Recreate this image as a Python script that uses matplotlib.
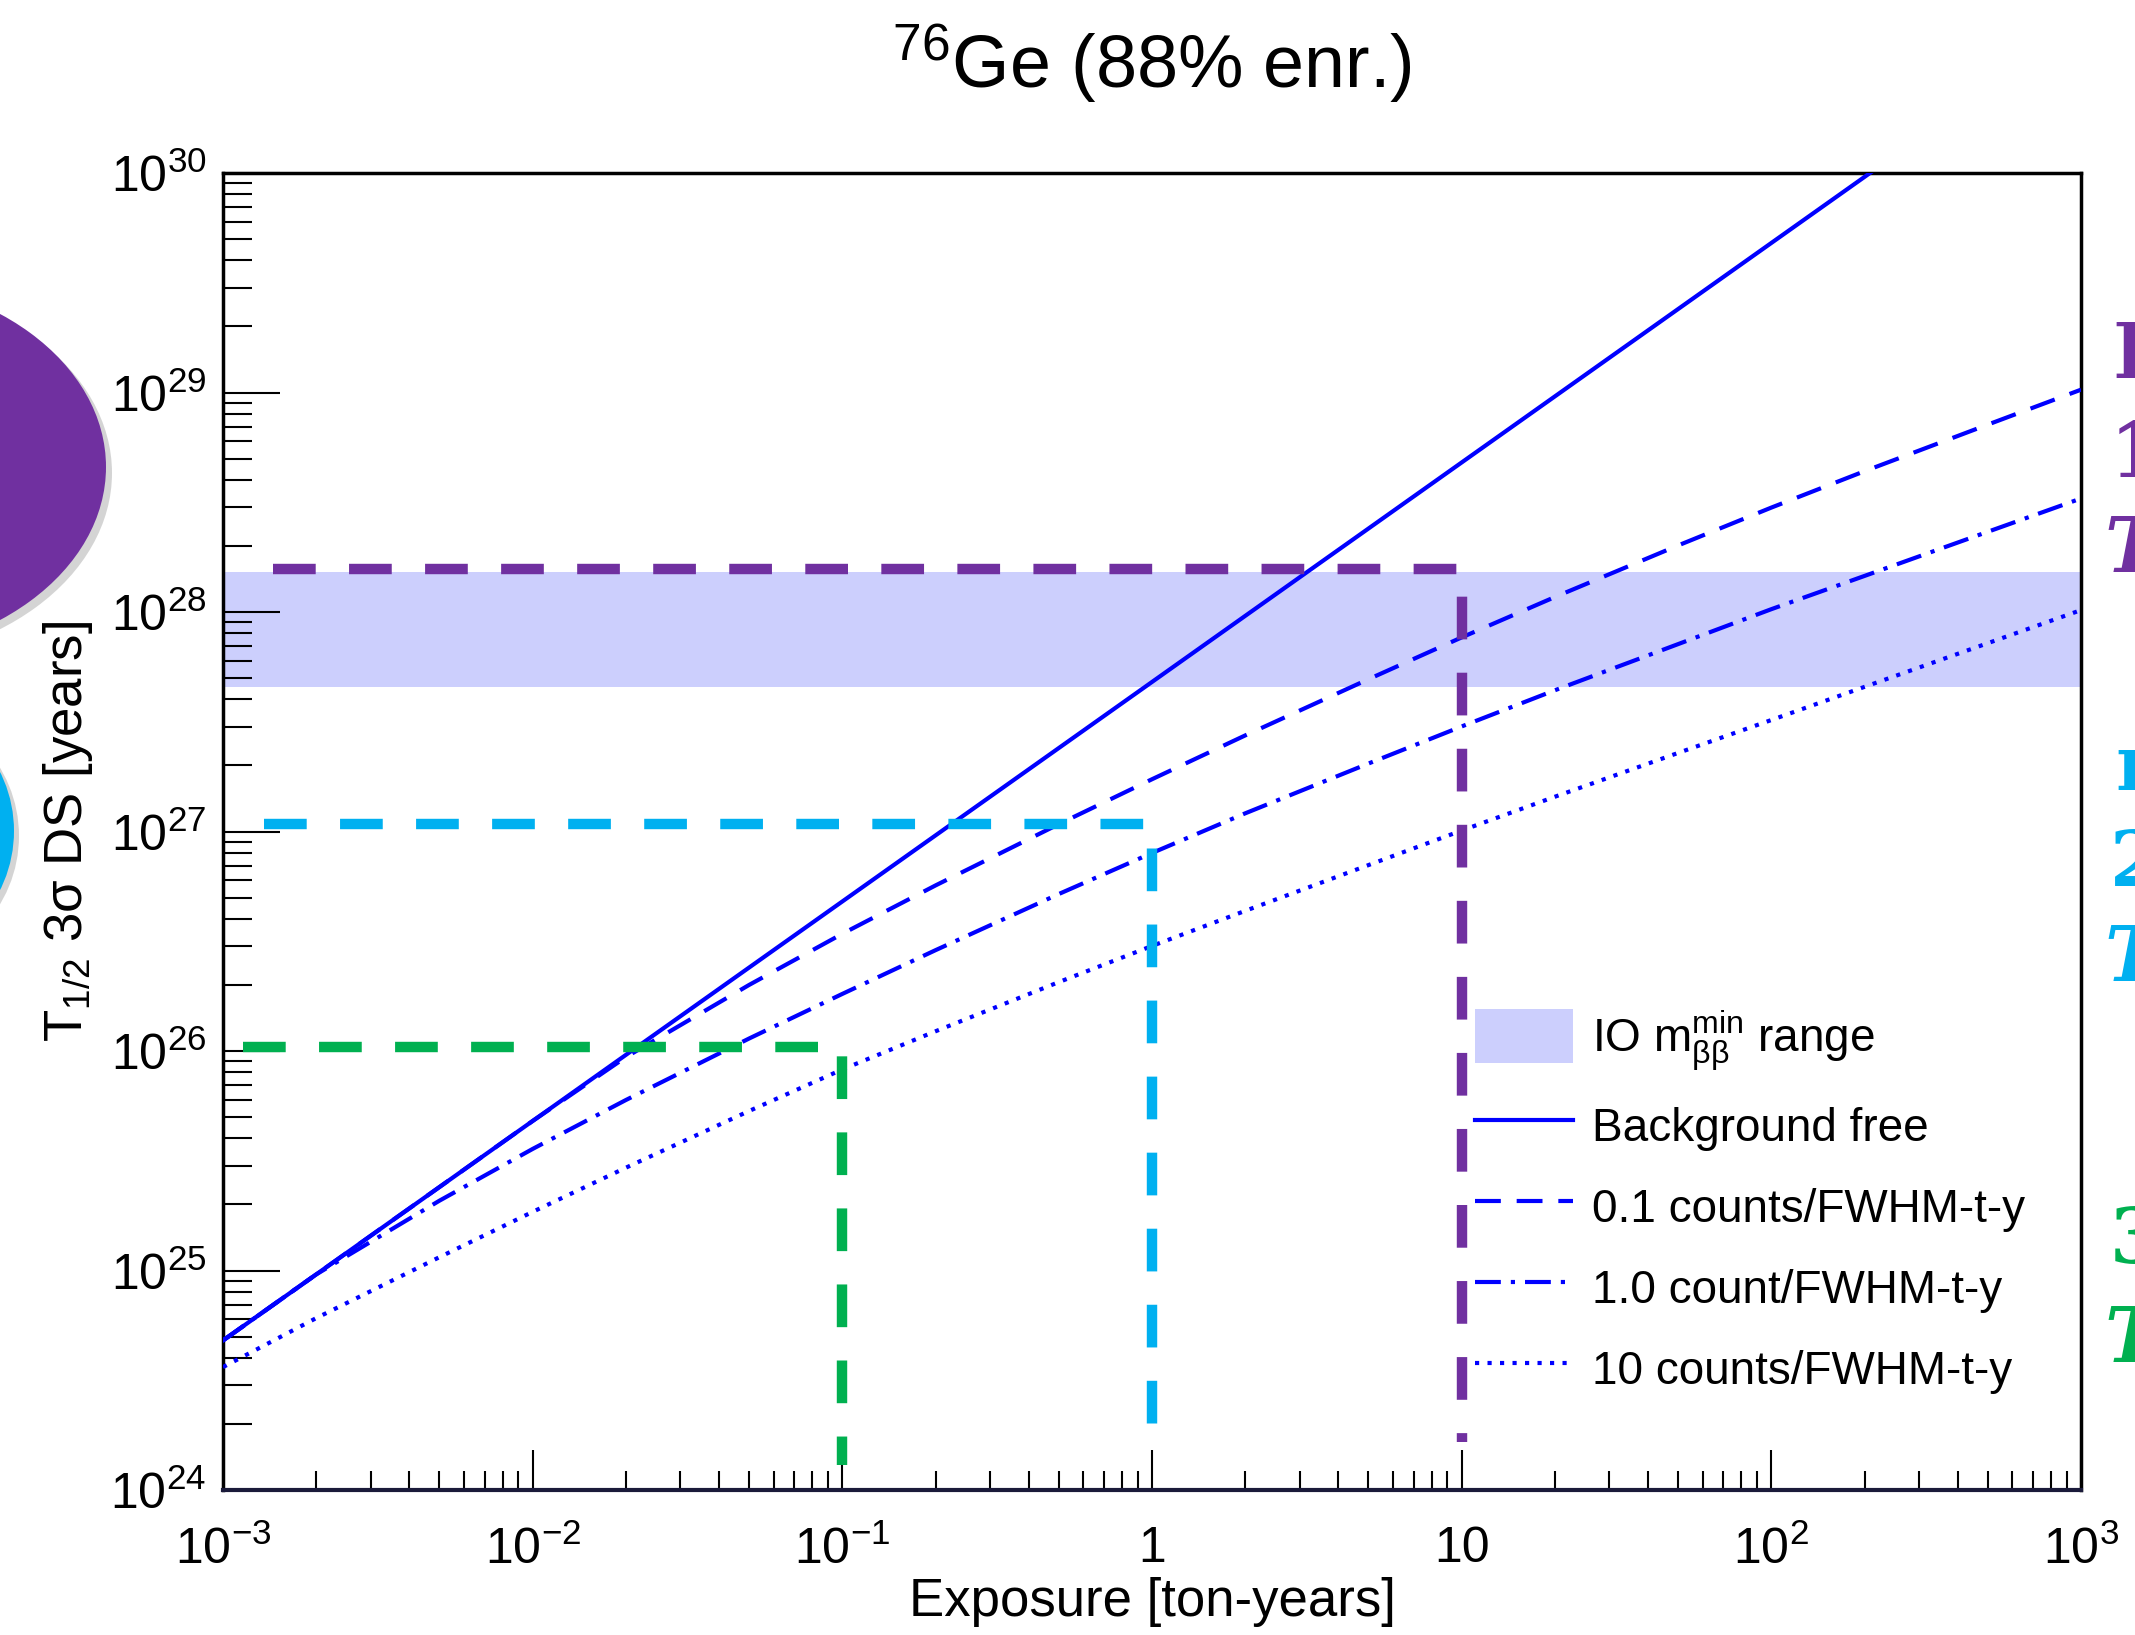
import matplotlib
matplotlib.use('Agg')
import matplotlib.pyplot as plt
from matplotlib.patches import Ellipse, Circle, Rectangle, Patch
from matplotlib.lines import Line2D
from matplotlib.legend_handler import HandlerPatch
from matplotlib.ticker import LogLocator, NullFormatter, FixedLocator, FixedFormatter

plt.rcParams['font.family'] = ['Liberation Sans', 'DejaVu Sans']
plt.rcParams['mathtext.fontset'] = 'custom'
plt.rcParams['mathtext.rm'] = 'Liberation Sans'
plt.rcParams['mathtext.it'] = 'Liberation Sans:italic'
plt.rcParams['mathtext.bf'] = 'Liberation Sans:bold'

W, H = 2135, 1635

# exposure in ton-years
exposure = [1e-3, 2e-3, 5e-3, 1e-2, 2e-2, 5e-2, 0.1, 0.2, 0.5, 1, 2, 5,
            10, 20, 50, 100, 200, 500, 1000]

# 3 sigma discovery half-life [years]
bkg_free = [4.8e24, 9.6e24, 2.4e25, 4.8e25, 9.6e25, 2.4e26, 4.8e26, 9.6e26,
            2.4e27, 4.8e27, 9.6e27, 2.4e28, 4.8e28, 9.6e28, 2.4e29, 4.8e29,
            9.6e29, 2.4e30, 4.8e30]
bkg_0p1 = [4.8e24, 9.6e24, 2.4e25, 4.8e25, 9.38e25, 2.0e26, 3.42e26, 5.68e26,
           1.08e27, 1.73e27, 2.74e27, 4.94e27, 7.66e27, 1.17e28, 2.01e28,
           2.99e28, 4.38e28, 7.14e28, 1.03e29]
bkg_1 = [4.8e24, 9.6e24, 2.08e25, 3.58e25, 5.98e25, 1.14e26, 1.82e26, 2.88e26,
         5.19e26, 7.98e26, 1.21e27, 2.04e27, 3.01e27, 4.40e27, 7.14e27,
         1.03e28, 1.46e28, 2.32e28, 3.29e28]
bkg_10 = [3.63e24, 6.07e24, 1.15e25, 1.85e25, 2.94e25, 5.33e25, 8.24e25,
          1.23e26, 2.06e26, 3.01e26, 4.35e26, 7.03e26, 1.01e27, 1.44e27,
          2.28e27, 3.22e27, 4.56e27, 7.21e27, 1.02e28]

# inverted ordering m_bb^min band
io_low, io_high = 4.55e27, 1.52e28

# exposure guides: half-life level, exposure, start, end of the drop line
guide_levels = [1.57e28, 1.08e27, 1.04e26]
guide_exposure = [10, 1, 0.1]
guide_start = [1.45e-3, 1.36e-3, 1.16e-3]
guide_end = [1.66e24, 1.6e24, 1.3e24]
guide_colors = ['#7030A0', '#00B0F0', '#00B050']

x_ticks = [1e-3, 1e-2, 1e-1, 1, 10, 1e2, 1e3]
x_ticklabels = [r'$10^{-3}$', r'$10^{-2}$', r'$10^{-1}$', '1', '10',
                r'$10^{2}$', r'$10^{3}$']
y_ticks = [1e24, 1e25, 1e26, 1e27, 1e28, 1e29, 1e30]
y_ticklabels = [r'$10^{24}$', r'$10^{25}$', r'$10^{26}$', r'$10^{27}$',
                r'$10^{28}$', r'$10^{29}$', r'$10^{30}$']

fig = plt.figure(figsize=(W / 100, H / 100), dpi=100)
ax = fig.add_axes([223 / W, 1 - 1490 / H, (2081 - 223) / W, (1490 - 173) / H])
ax.set_xscale('log')
ax.set_yscale('log')
ax.set_xlim(1e-3, 1e3)
ax.set_ylim(1e24, 1e30)

band_color = '#CCCFFD'
ax.axhspan(io_low, io_high, color=band_color, lw=0, zorder=1)

blue = '#0000FF'
lw = 3
dashed = (0, (6.2, 3.8))
dashdot = (0, (6.2, 2.4, 1, 2.4))
dotted = (0, (1, 2))
ax.plot(exposure, bkg_free, color=blue, lw=lw, zorder=3)
ax.plot(exposure, bkg_0p1, color=blue, lw=lw, ls=dashed, zorder=3)
ax.plot(exposure, bkg_1, color=blue, lw=lw, ls=dashdot, zorder=3)
ax.plot(exposure, bkg_10, color=blue, lw=lw, ls=dotted, zorder=3)

for lvl, ex, x0, y1, c in zip(guide_levels, guide_exposure, guide_start,
                              guide_end, guide_colors):
    ax.plot([x0, ex, ex], [lvl, lvl, y1], color=c, lw=7.5,
            ls=(0, (4.1, 3.2)), zorder=4, solid_joinstyle='miter')

ax.xaxis.set_major_locator(FixedLocator(x_ticks))
ax.xaxis.set_major_formatter(FixedFormatter(x_ticklabels))
ax.yaxis.set_major_locator(FixedLocator(y_ticks))
ax.yaxis.set_major_formatter(FixedFormatter(y_ticklabels))
for axis in (ax.xaxis, ax.yaxis):
    axis.set_minor_locator(LogLocator(base=10, subs=range(2, 10), numticks=20))
    axis.set_minor_formatter(NullFormatter())

ax.tick_params(which='both', direction='in', top=False, right=False,
               width=1.5, color='black', labelsize=36)
ax.tick_params(axis='y', which='major', length=41, pad=12)
ax.tick_params(axis='y', which='minor', length=21)
ax.tick_params(axis='x', which='major', length=29, pad=26)
ax.tick_params(axis='x', which='minor', length=14)

for side in ('left', 'top', 'right'):
    ax.spines[side].set_linewidth(2.5)
    ax.spines[side].set_color('black')
ax.spines['bottom'].set_linewidth(3)
ax.spines['bottom'].set_color('#1a1a3a')

ax.set_xlabel('Exposure [ton-years]', fontsize=38)
ax.xaxis.set_label_coords(0.5, -0.066)
ax.set_ylabel('T$_{1/2}$ 3σ DS [years]', fontsize=38)
ax.yaxis.set_label_coords(-0.069, 0.5)

fig.text(1152 / W, 1 - 88 / H, r'$^{76}$Ge (88% enr.)', fontsize=53,
         ha='center', va='baseline')


def band_handle(legend, orig_handle, xdescent, ydescent, width, height, fontsize):
    h = 1.18 * fontsize
    return Rectangle((-xdescent, -ydescent + (height - h) / 2), width, h)


band_proxy = Patch(facecolor=band_color, edgecolor='none')
handles = [
    band_proxy,
    Line2D([], [], color=blue, lw=lw),
    Line2D([], [], color=blue, lw=lw, ls=dashed),
    Line2D([], [], color=blue, lw=lw, ls=dashdot),
    Line2D([], [], color=blue, lw=lw, ls=dotted),
]
labels = [r'IO m$^{\mathrm{min}}_{\mathrm{ββ}}$ range', 'Background free',
          '0.1 counts/FWHM-t-y', '1.0 count/FWHM-t-y', '10 counts/FWHM-t-y']
ax.legend(handles, labels, loc='upper left',
          bbox_to_anchor=(1475 / W, 1 - 1008 / H), bbox_transform=fig.transFigure,
          frameon=False, fontsize=33, handlelength=2.13, handleheight=1.5,
          handletextpad=0.43, labelspacing=0.55, borderpad=0, borderaxespad=0,
          handler_map={band_proxy: HandlerPatch(patch_func=band_handle)})

# slide shapes on the left edge
px = fig.dpi_scale_trans
fig.add_artist(Ellipse(((-154 + 6) / 100, (H - 467 - 6) / 100), 520 / 100, 380 / 100,
                       transform=px, color='#555555', alpha=0.25, lw=0))
fig.add_artist(Ellipse((-154 / 100, (H - 467) / 100), 520 / 100, 380 / 100,
                       transform=px, color='#7030A0', lw=0))
fig.add_artist(Circle(((-118 + 5) / 100, (H - 831 - 5) / 100), 132 / 100,
                      transform=px, color='#555555', alpha=0.25, lw=0))
fig.add_artist(Circle((-118 / 100, (H - 831) / 100), 132 / 100,
                      transform=px, color='#00B0F0', lw=0))

# slide text running off the right edge
side_text = [('L', 2112, 357, '#7030A0', 'normal'),
             ('1', 2110, 456, '#7030A0', 'normal'),
             ('T', 2104, 551, '#7030A0', 'italic'),
             ('m', 2115, 769, '#00B0F0', 'normal'),
             ('2', 2110, 865, '#00B0F0', 'normal'),
             ('T', 2104, 960, '#00B0F0', 'italic'),
             ('3', 2110, 1242, '#00B050', 'normal'),
             ('T', 2104, 1341, '#00B050', 'italic')]
for s, x, y, c, st in side_text:
    fig.text(x / W, 1 - y / H, s, color=c, fontsize=55, fontweight='bold',
             fontstyle=st, family='DejaVu Serif', ha='left', va='center')

fig.savefig('out.png', dpi=100, facecolor='white')
